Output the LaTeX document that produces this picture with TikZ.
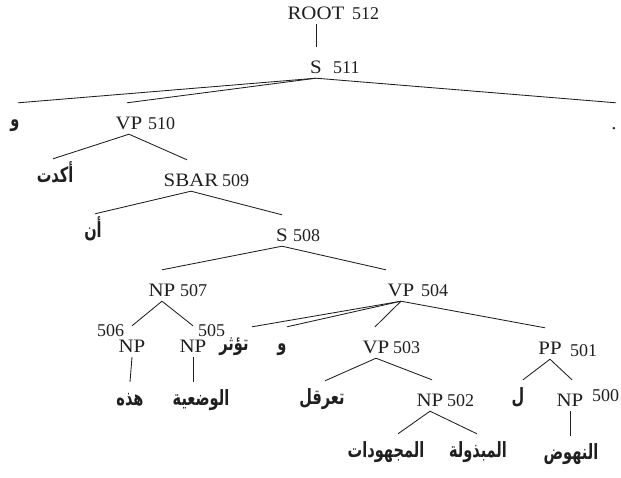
\documentclass[tikz,border=0pt]{standalone}
\usepackage{fontspec}
\usepackage{graphicx}
\setmainfont{Liberation Serif}[FakeStretch=1.1]
\newfontfamily\numfont{Liberation Serif}
\newfontfamily\arabicfont[Script=Arabic]{DejaVu Sans}
\TeXXeTstate=1
\definecolor{ink}{gray}{0.12}
% parent -> child branch; optional argument shifts the child end sideways
\newcommand\treelink[3][0pt]{\draw[branch] ([yshift=-5pt]#2.south) -- ([shift={(#1,14pt)}]#3.north);}
% Arabic word, set right to left in a taller naskh-like shape
\newcommand\arword[1]{\scalebox{1.04}[1.5]{\beginR #1\endR}}
\begin{document}
\begin{tikzpicture}[x=1pt,y=-1pt,
  cat/.style={anchor=base, inner sep=0pt, text height=12pt, text depth=0pt, text=ink,
    font=\fontsize{19}{19}\selectfont},
  arw/.style={anchor=base, inner sep=0pt, text height=9pt, text depth=0pt, text=ink,
    font=\arabicfont\bfseries\fontsize{14}{14}\selectfont},
  num/.style={anchor=base west, inner sep=0pt, text=ink, font=\numfont\fontsize{18}{18}\selectfont},
  branch/.style={draw=ink, line width=0.85pt}]
\useasboundingbox (0,0) rectangle (621,477);

% category nodes
\node[cat] (root)  at (316,19)  {ROOT};
\node[cat] (s511)  at (316,73)  {S};
\node[arw] (w1)    at (15,126)  {\arword{و}};
\node[cat] (vp510) at (129,129) {VP};
\node[cat] (dot)   at (614,129) {.};
\node[arw] (akadat) at (55,182) {\arword{أكدت}};
\node[cat] (sbar)  at (191,186) {SBAR};
\node[arw] (an)    at (93,237)  {\arword{أن}};
\node[cat] (s508)  at (282,241) {S};
\node[cat] (np507) at (162,296) {NP};
\node[cat] (vp504) at (401,296) {VP};
\node[cat] (np506) at (132,352) {NP};
\node[cat] (np505) at (193,352) {NP};
\node[arw] (tuathir) at (234,350) {\arword{تؤثر}};
\node[arw] (w2)    at (282,350) {\arword{و}};
\node[cat] (vp503) at (376,353) {VP};
\node[cat] (pp501) at (550,354) {PP};
\node[arw] (hadhihi) at (130,405) {\arword{هذه}};
\node[arw] (wadiya) at (201,405) {\arword{الوضعية}};
\node[arw] (taarqul) at (322,404) {\arword{تعرقل}};
\node[cat] (np502) at (430,406) {NP};
\node[arw] (lam)   at (518,403) {\arword{ل}};
\node[cat] (np500) at (570,406) {NP};
\node[arw] (majhudat) at (386,457) {\arword{المجهودات}};
\node[arw] (mabdhula) at (478,457) {\arword{المبذولة}};
\node[arw] (nuhud) at (571,459) {\arword{النهوض}};

% index numbers
\node[num] (n512) at (352,19)  {512};
\node[num] (n511) at (333,73)  {511};
\node[num] (n510) at (148,129) {510};
\node[num] (n509) at (222,186) {509};
\node[num] (n508) at (293,241) {508};
\node[num] (n507) at (180,296) {507};
\node[num] (n506) at (97,336)  {506};
\node[num] (n505) at (198,336) {505};
\node[num] (n504) at (421,296) {504};
\node[num] (n503) at (393,353) {503};
\node[num] (n502) at (447,406) {502};
\node[num] (n501) at (570,356) {501};
\node[num] (n500) at (592,401) {500};

% branches
\treelink{root}{s511}
\treelink[3pt]{s511}{w1}
\treelink[-2pt]{s511}{vp510}
\treelink[2pt]{s511}{dot}
\treelink[-2pt]{vp510}{akadat}
\treelink[-4pt]{vp510}{sbar}
\treelink[2pt]{sbar}{an}
\treelink{sbar}{s508}
\treelink{s508}{np507}
\treelink[-15pt]{s508}{vp504}
\treelink{np507}{np506}
\treelink{np507}{np505}
\treelink[18pt]{vp504}{tuathir}
\treelink[5pt]{vp504}{w2}
\treelink[-1pt]{vp504}{vp503}
\treelink[-5pt]{vp504}{pp501}
\treelink{np506}{hadhihi}
\treelink[-8pt]{np505}{wadiya}
\treelink[3pt]{vp503}{taarqul}
\treelink[2pt]{vp503}{np502}
\treelink[5pt]{pp501}{lam}
\treelink[2pt]{pp501}{np500}
\treelink[12pt]{np502}{majhudat}
\treelink[-1pt]{np502}{mabdhula}
\treelink[-1pt]{np500}{nuhud}
\end{tikzpicture}
\end{document}
